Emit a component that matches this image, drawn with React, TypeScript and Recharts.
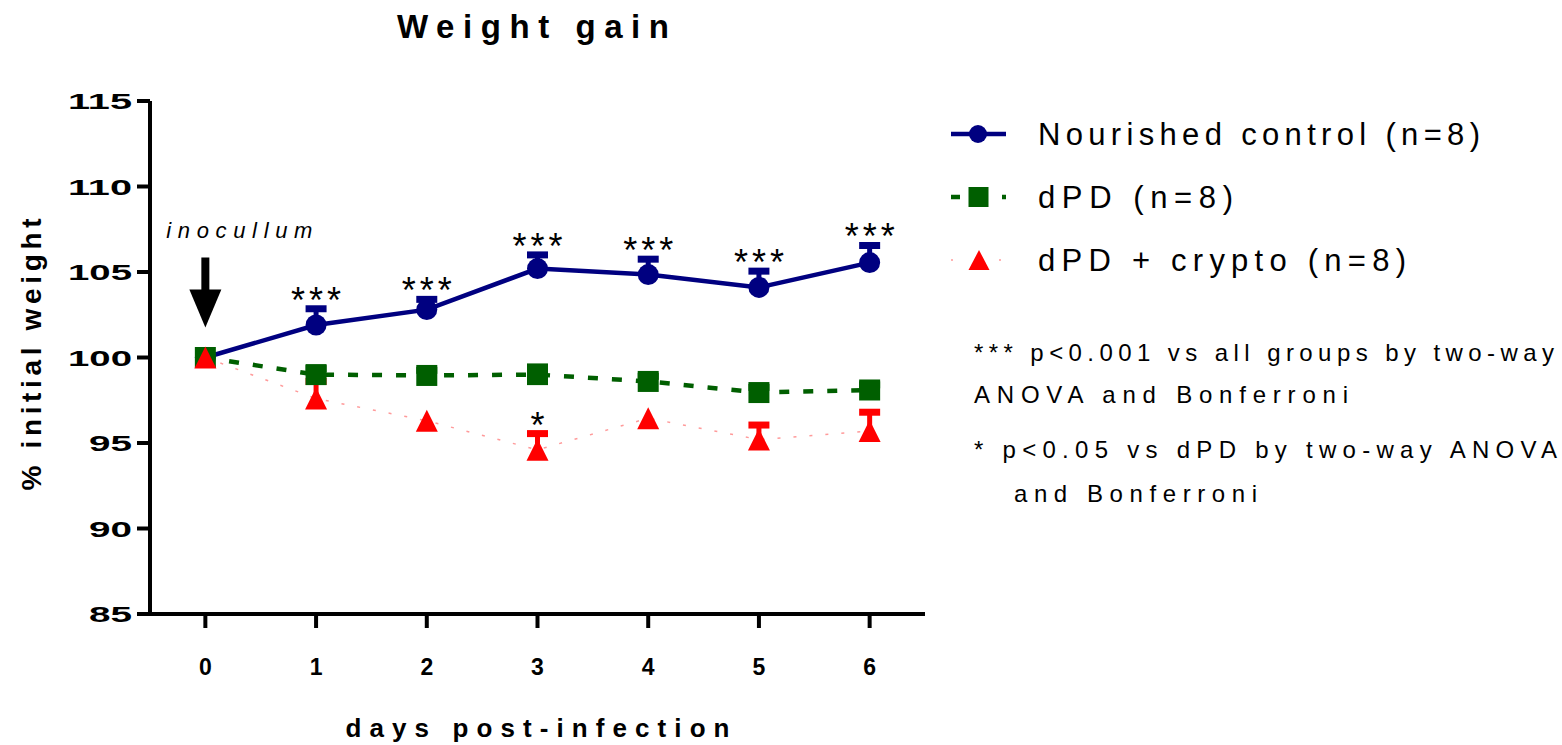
import React from 'react'
import { LineChart, Line, XAxis, YAxis, ErrorBar, LabelList, Legend, ReferenceDot, Label } from 'recharts'

const days = [0, 1, 2, 3, 4, 5, 6]
const dayTicks = [0, 1, 2, 3, 4, 5, 6]
const weightTicks = [85, 90, 95, 100, 105, 110, 115]

const nourished = [100, 101.9, 102.8, 105.2, 104.85, 104.1, 105.55]
const nourishedSem = [0, 0.95, 0.6, 0.8, 0.9, 0.95, 1.0]
const nourishedSig = ['', '***', '***', '***', '***', '***', '***']

const dpd = [100, 99.0, 98.95, 99.0, 98.6, 97.95, 98.1]
const dpdSem = [0, 0.35, 0.3, 0.45, 0.3, 0.3, 0.3]

const crypto = [100, 97.6, 96.3, 94.6, 96.45, 95.2, 95.7]
const cryptoSem = [0, 1.0, 0, 0.95, 0, 0.85, 1.1]
const cryptoSig = ['', '', '', '*', '', '', '']

const seriesNames = ['Nourished control (n=8)', 'dPD (n=8)', 'dPD + crypto (n=8)']
const noteLines = [
  '*** p<0.001 vs all groups by two-way',
  'ANOVA and Bonferroni',
  '* p<0.05 vs dPD by two-way ANOVA',
  'and Bonferroni',
]
const chartTitle = 'Weight gain'
const xTitle = 'days post-infection'
const yTitle = '% initial weight'
const inoculumDay = 0
const inoculumValue = 100
const inoculumLabel = 'inocullum'

// upper-only error bars; a zero SEM draws no bar at all
const upper = (sem: number) => (sem > 0 ? [0, sem] : null)

const rows = days.map((day, i) => ({
  day,
  nourished: nourished[i],
  nourishedErr: upper(nourishedSem[i]),
  nourishedTop: nourished[i] + nourishedSem[i],
  nourishedSig: nourishedSig[i],
  dpd: dpd[i],
  dpdErr: upper(dpdSem[i]),
  crypto: crypto[i],
  cryptoErr: upper(cryptoSem[i]),
  cryptoTop: crypto[i] + cryptoSem[i],
  cryptoSig: cryptoSig[i],
}))

const FONT = '"Liberation Sans", Arial, Helvetica, sans-serif'
const NAVY = '#000080'
const GREEN = '#005f00'
const RED = '#ff0000'
const PINK = '#ff9a9a'

const YTick = ({ x, y, payload }: any) => {
  const s = String(payload.value)
  return (
    <text x={x} y={y} dy={8} textAnchor="end" fontFamily={FONT} fontWeight="bold" fontSize={22}
      textLength={Math.round(s.length * 21.3)} lengthAdjust="spacingAndGlyphs" fill="#000">
      {s}
    </text>
  )
}

const XTick = ({ x, y, payload }: any) => (
  <text x={x} y={y} dy={17} textAnchor="middle" fontFamily={FONT} fontWeight="bold" fontSize={23} fill="#000">
    {payload.value}
  </text>
)

const circleDot = (p: any) => <circle key={`c${p.index}`} cx={p.cx} cy={p.cy} r={10.5} fill={NAVY} />
const squareDot = (p: any) => (
  <rect key={`s${p.index}`} x={p.cx - 10.5} y={p.cy - 10.5} width={21} height={21} fill={GREEN} />
)
const triangleDot = (p: any) => (
  <polygon key={`t${p.index}`} fill={RED}
    points={`${p.cx},${p.cy - 11} ${p.cx + 11},${p.cy + 11} ${p.cx - 11},${p.cy + 11}`} />
)

const renderStars = (p: any) => {
  if (!p.value) return null
  const s = String(p.value)
  return (
    <text x={p.x} y={p.y + 4} textAnchor="middle" fontFamily={FONT} fontSize={36} fill="#000"
      textLength={s.length > 1 ? 50 : undefined} lengthAdjust="spacing">
      {s}
    </text>
  )
}

const renderInoculum = ({ cx, cy }: any) => (
  <g>
    <text x={cx - 39} y={cy - 120} fontFamily={FONT} fontStyle="italic" fontSize={22} fill="#000"
      textLength={146} lengthAdjust="spacing">
      {inoculumLabel}
    </text>
    <rect x={cx - 4} y={cy - 100} width={8} height={34} fill="#000" />
    <polygon points={`${cx - 16},${cy - 68} ${cx + 16},${cy - 68} ${cx},${cy - 30}`} fill="#000" />
  </g>
)

const renderXLabel = ({ viewBox }: any) => (
  <text x={viewBox.x + viewBox.width / 2} y={viewBox.y + 123} textAnchor="middle" fontFamily={FONT}
    fontWeight="bold" fontSize={26} textLength={384} lengthAdjust="spacing" fill="#000">
    {xTitle}
  </text>
)

const renderYLabel = ({ viewBox }: any) => {
  const cx = 41
  const cy = viewBox.y + viewBox.height / 2 - 3
  return (
    <text x={cx} y={cy} transform={`rotate(-90 ${cx} ${cy})`} textAnchor="middle" fontFamily={FONT}
      fontWeight="bold" fontSize={28} textLength={272} lengthAdjust="spacing" fill="#000">
      {yTitle}
    </text>
  )
}

const legendWidths = [442, 195, 368]

const renderLegend = (props: any) => {
  const items = (props.payload || [])
    .filter((it: any) => seriesNames.includes(it.value))
    .sort((a: any, b: any) => seriesNames.indexOf(a.value) - seriesNames.indexOf(b.value))
  return (
    <svg width={622} height={190} style={{ display: 'block' }}>
      {items.map((item: any, i: number) => {
        const cy = 34 + i * 63
        const key = item.dataKey
        return (
          <g key={key}>
            {key === 'nourished' && (
              <>
                <line x1={11} x2={66} y1={cy} y2={cy} stroke={NAVY} strokeWidth={4.5} />
                <circle cx={38} cy={cy} r={9} fill={NAVY} />
              </>
            )}
            {key === 'dpd' && (
              <>
                <line x1={11} x2={66} y1={cy} y2={cy} stroke={GREEN} strokeWidth={4.5} strokeDasharray="9 42 4" />
                <rect x={28.5} y={cy - 10} width={20} height={20} fill={GREEN} />
              </>
            )}
            {key === 'crypto' && (
              <>
                <line x1={11} x2={66} y1={cy} y2={cy} stroke={PINK} strokeWidth={1.5} strokeDasharray="2 46 2 10" />
                <polygon points={`${39},${cy - 10} ${49.5},${cy + 10} ${28.5},${cy + 10}`} fill={RED} />
              </>
            )}
            <text x={98} y={cy + 11} fontFamily={FONT} fontSize={31} fill="#000"
              textLength={legendWidths[i]} lengthAdjust="spacing">
              {item.value}
            </text>
          </g>
        )
      })}
    </svg>
  )
}

const noteX = [974, 974, 974, 1014]
const noteY = [361, 403, 458, 502]
const noteW = [580, 374, 583, 243]

export default function App() {
  return (
    <div style={{ position: 'absolute', left: 0, top: 0, width: 1562, height: 745, background: '#fff' }}>
      <style>{`
        .recharts-errorBar line:nth-of-type(3) { display: none; }
        .recharts-errorBar line:nth-of-type(1) { stroke-width: 7px; }
      `}</style>
      <LineChart width={1562} height={745} data={rows} margin={{ top: 101, right: 637, bottom: 0, left: 0 }}>
        <XAxis dataKey="day" type="number" domain={[-0.5, 6.5]} ticks={dayTicks} height={131}
          axisLine={{ stroke: '#000', strokeWidth: 4 }} tickLine={{ stroke: '#000', strokeWidth: 4 }}
          tickSize={14} tickMargin={30} tick={<XTick />}>
          <Label content={renderXLabel} />
        </XAxis>
        <YAxis type="number" domain={[85, 115]} ticks={weightTicks} width={150}
          axisLine={{ stroke: '#000', strokeWidth: 4 }} tickLine={{ stroke: '#000', strokeWidth: 4 }}
          tickSize={13} tickMargin={5} tick={<YTick />}>
          <Label content={renderYLabel} />
        </YAxis>
        <Legend layout="vertical" align="center" verticalAlign="middle" content={renderLegend}
          wrapperStyle={{ left: 940, top: 100, width: 622, height: 190 }} />
        <ReferenceDot x={inoculumDay} y={inoculumValue} r={0} shape={renderInoculum} />

        <Line dataKey="nourished" name={seriesNames[0]} stroke={NAVY} strokeWidth={4.5}
          dot={circleDot} activeDot={false} isAnimationActive={false}>
          <ErrorBar dataKey="nourishedErr" direction="y" width={10.5} stroke={NAVY} strokeWidth={5}
            isAnimationActive={false} />
        </Line>
        <Line dataKey="dpd" name={seriesNames[1]} stroke={GREEN} strokeWidth={4.5} strokeDasharray="10 14"
          dot={squareDot} activeDot={false} isAnimationActive={false}>
          <ErrorBar dataKey="dpdErr" direction="y" width={10.5} stroke={GREEN} strokeWidth={5}
            isAnimationActive={false} />
        </Line>
        <Line dataKey="crypto" name={seriesNames[2]} stroke={PINK} strokeWidth={1.5} strokeDasharray="3 13"
          dot={triangleDot} activeDot={false} isAnimationActive={false}>
          <ErrorBar dataKey="cryptoErr" direction="y" width={10.5} stroke={RED} strokeWidth={5}
            isAnimationActive={false} />
        </Line>

        <Line dataKey="nourishedTop" stroke="none" dot={false} activeDot={false} legendType="none"
          isAnimationActive={false}>
          <LabelList dataKey="nourishedSig" content={renderStars} />
        </Line>
        <Line dataKey="cryptoTop" stroke="none" dot={false} activeDot={false} legendType="none"
          isAnimationActive={false}>
          <LabelList dataKey="cryptoSig" content={renderStars} />
        </Line>
      </LineChart>

      <svg width={1562} height={745} style={{ position: 'absolute', left: 0, top: 0, pointerEvents: 'none' }}>
        <text x={397} y={38} fontFamily={FONT} fontWeight="bold" fontSize={33} textLength={272}
          lengthAdjust="spacing" fill="#000">
          {chartTitle}
        </text>
        {noteLines.map((line, i) => (
          <text key={i} x={noteX[i]} y={noteY[i]} fontFamily={FONT} fontSize={24} fill="#000"
            textLength={noteW[i]} lengthAdjust="spacing">
            {line}
          </text>
        ))}
      </svg>
    </div>
  )
}
